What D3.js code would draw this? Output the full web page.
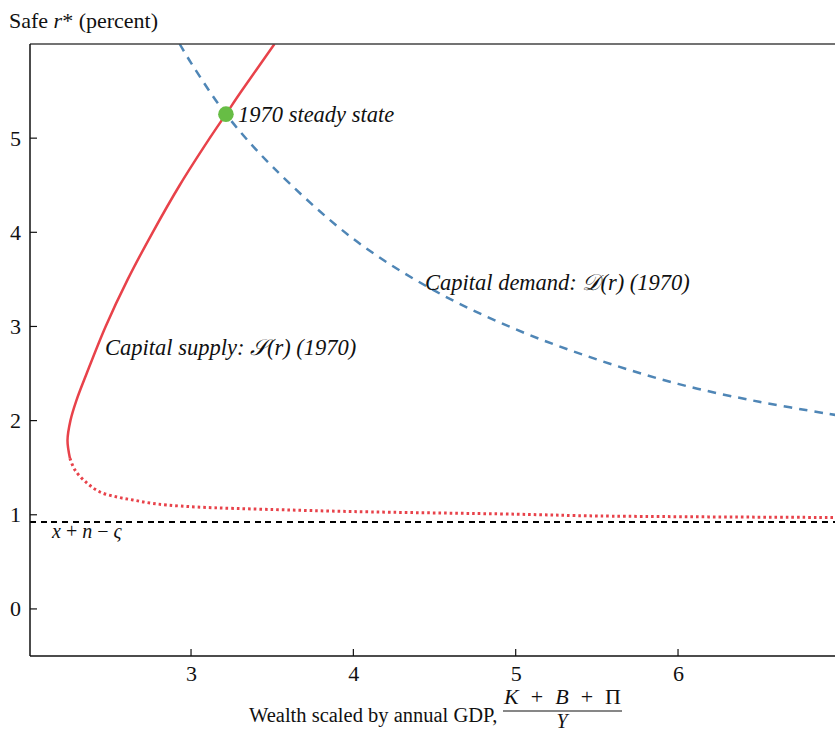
<!DOCTYPE html>
<html>
<head>
<meta charset="utf-8">
<script src="https://cdn.jsdelivr.net/npm/d3@7"></script>
<style>
  html, body { margin: 0; padding: 0; background: #fff; }
  svg text { font-family: "Liberation Serif", "Times New Roman", serif; fill: #111; }
</style>
</head>
<body>
<svg id="chart" width="835" height="733"></svg>
<script>
// Capital supply S(r), 1970: wealth/GDP at each safe rate (percent)
const supplySolidR = [6.0, 5.5, 5.255, 5.0, 4.5, 4.0, 3.5, 3.0, 2.5, 2.21, 2.0, 1.79, 1.6];
const supplySolidW = [3.514, 3.311, 3.215, 3.115, 2.930, 2.764, 2.610, 2.474, 2.357, 2.293, 2.257, 2.239, 2.254];
const supplyDotR = [1.6, 1.475, 1.337, 1.242, 1.189, 1.157, 1.125, 1.104, 1.082, 1.055, 1.034, 1.006, 0.987, 0.971];
const supplyDotW = [2.254, 2.285, 2.359, 2.439, 2.544, 2.642, 2.747, 2.852, 3.037, 3.517, 3.998, 5.002, 5.519, 6.967];

// Capital demand D(r), 1970
const demandW = [2.93, 3.0, 3.215, 3.5, 4.0, 4.5, 5.0, 5.5, 6.0, 6.5, 6.97];
const demandR = [6.0, 5.80, 5.255, 4.70, 3.93, 3.38, 2.97, 2.65, 2.39, 2.20, 2.06];

// 1970 steady state and the lower bound x + n − ς
const steadyState = { w: 3.215, r: 5.255 };
const lowerBound = 0.923;

const xTicks = [3, 4, 5, 6];
const yTicks = [0, 1, 2, 3, 4, 5];

const svg = d3.select("#chart");
const M = { left: 30, right: 835, top: 44, bottom: 656 };

const x = d3.scaleLinear().domain([2.008, 6.967]).range([M.left, M.right]);
const y = d3.scaleLinear().domain([-0.5, 6]).range([M.bottom, M.top]);

// clip region for the curves
svg.append("defs").append("clipPath").attr("id", "plot")
  .append("rect").attr("x", M.left).attr("y", M.top)
  .attr("width", M.right - M.left).attr("height", M.bottom - M.top);

const g = svg.append("g").attr("clip-path", "url(#plot)");
const line = d3.line().x(d => x(d[0])).y(d => y(d[1])).curve(d3.curveCatmullRom.alpha(0.5));

// lower bound
g.append("line")
  .attr("x1", M.left).attr("x2", M.right)
  .attr("y1", y(lowerBound)).attr("y2", y(lowerBound))
  .attr("stroke", "#000").attr("stroke-width", 1.4).attr("stroke-dasharray", "6,4.7")
  .attr("shape-rendering", "crispEdges");

// demand curve
g.append("path")
  .datum(demandW.map((w, i) => [w, demandR[i]]))
  .attr("d", line).attr("fill", "none")
  .attr("stroke", "#4f86b6").attr("stroke-width", 2.5).attr("stroke-dasharray", "8.5,7");

// supply curve: solid upper branch, dotted lower branch
g.append("path")
  .datum(supplySolidW.map((w, i) => [w, supplySolidR[i]]))
  .attr("d", line).attr("fill", "none")
  .attr("stroke", "#e8424a").attr("stroke-width", 2.5);

g.append("path")
  .datum(supplyDotW.map((w, i) => [w, supplyDotR[i]]))
  .attr("d", line).attr("fill", "none")
  .attr("stroke", "#e8424a").attr("stroke-width", 3).attr("stroke-dasharray", "2.6,3");

// steady state marker
svg.append("circle")
  .attr("cx", x(steadyState.w)).attr("cy", y(steadyState.r)).attr("r", 7.8)
  .attr("fill", "#67bd45");

// axes
const xAxis = d3.axisBottom(x).tickValues(xTicks).tickSize(0).tickPadding(9).tickFormat(d3.format("d"));
const yAxis = d3.axisLeft(y).tickValues(yTicks).tickSize(0).tickPadding(9).tickFormat(d3.format("d"));

const gx = svg.append("g").attr("transform", `translate(0,${M.bottom})`).call(xAxis);
const gy = svg.append("g").attr("transform", `translate(${M.left},0)`).call(yAxis);
[gx, gy].forEach(a => {
  a.select(".domain").remove();
  a.selectAll("text").style("font-family", "'Liberation Serif', serif").style("font-size", "22px").attr("fill", "#111");
});

// inward tick marks
svg.append("g").selectAll("line").data(xTicks).join("line")
  .attr("x1", d => x(d)).attr("x2", d => x(d))
  .attr("y1", M.bottom).attr("y2", M.bottom - 7)
  .attr("stroke", "#111").attr("stroke-width", 1.2);
svg.append("g").selectAll("line").data(yTicks).join("line")
  .attr("x1", M.left).attr("x2", M.left + 7)
  .attr("y1", d => y(d)).attr("y2", d => y(d))
  .attr("stroke", "#111").attr("stroke-width", 1.2);

// frame
svg.append("line").attr("x1", M.left).attr("x2", M.right).attr("y1", M.top).attr("y2", M.top)
  .attr("stroke", "#444").attr("stroke-width", 1.5);
svg.append("line").attr("x1", M.left).attr("x2", M.right).attr("y1", M.bottom).attr("y2", M.bottom)
  .attr("stroke", "#111").attr("stroke-width", 1.5);
svg.append("line").attr("x1", M.left).attr("x2", M.left).attr("y1", M.top).attr("y2", M.bottom)
  .attr("stroke", "#111").attr("stroke-width", 1.5);

// y-axis title
const yt = svg.append("text").attr("x", 9).attr("y", 28).style("font-size", "22px");
yt.append("tspan").text("Safe ");
yt.append("tspan").style("font-style", "italic").text("r");
yt.append("tspan").text("* (percent)");

// x-axis title with fraction
svg.append("text").attr("x", 249).attr("y", 722).style("font-size", "20.5px")
  .text("Wealth scaled by annual GDP,");
const num = svg.append("text").attr("x", 504).attr("y", 704).style("font-size", "22px")
  .attr("textLength", 117).attr("lengthAdjust", "spacing");
num.append("tspan").style("font-style", "italic").text("K");
num.append("tspan").text(" + ");
num.append("tspan").style("font-style", "italic").text("B");
num.append("tspan").text(" + ");
num.append("tspan").text("Π");
svg.append("line").attr("x1", 503).attr("x2", 622).attr("y1", 711).attr("y2", 711)
  .attr("stroke", "#111").attr("stroke-width", 1.2);
svg.append("text").attr("x", 562).attr("y", 728).attr("text-anchor", "middle").style("font-size", "20px")
  .style("font-style", "italic").text("Y");

// annotations
const ital = (xp, yp, txt) => svg.append("text").attr("x", xp).attr("y", yp)
  .style("font-size", "22.5px").style("font-style", "italic").text(txt);
ital(238, 122, "1970 steady state");
ital(425, 290, "Capital demand: 𝒟(r) (1970)");
ital(105, 355, "Capital supply: 𝒮(r) (1970)");

const lb = svg.append("text").attr("x", 52).attr("y", 538).style("font-size", "20px");
lb.append("tspan").style("font-style", "italic").text("x");
lb.append("tspan").text(" + ");
lb.append("tspan").style("font-style", "italic").text("n");
lb.append("tspan").text(" − ");
lb.append("tspan").style("font-style", "italic").text("ς");
</script>
</body>
</html>
